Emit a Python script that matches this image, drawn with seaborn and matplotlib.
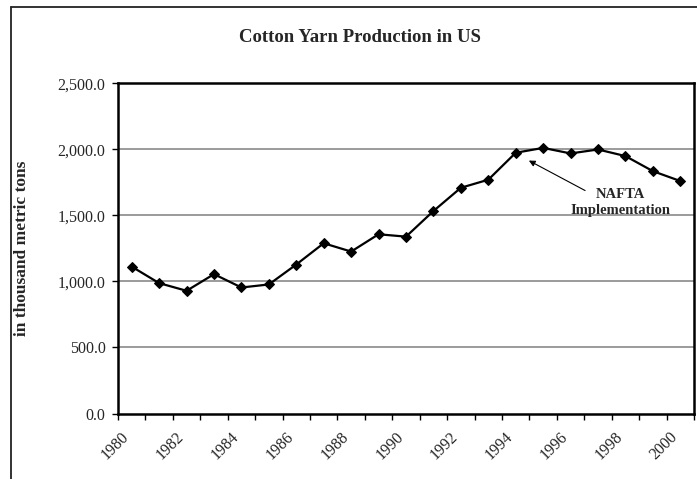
import matplotlib
matplotlib.use("Agg")
import matplotlib.pyplot as plt
import matplotlib.ticker as mticker
import matplotlib.transforms as mtransforms
from matplotlib.lines import Line2D
import seaborn as sns
import pandas as pd

# Annual cotton yarn production in the US (thousand metric tons)
years = list(range(1980, 2001))
production = [1112, 987, 929, 1055, 954, 977, 1128, 1289, 1226, 1357, 1339,
              1533, 1709, 1770, 1974, 2011, 1969, 1999, 1949, 1835, 1760]
year_labels = [str(y) for y in range(1980, 2001, 2)]
y_ticks = [0, 500, 1000, 1500, 2000, 2500]

title = "Cotton Yarn Production in US"
y_label = "in thousand metric tons"
note = "NAFTA\nImplementation"

df = pd.DataFrame({"year": years, "production": production})

sns.set_style("white")
plt.rcParams["font.family"] = ["Liberation Serif", "DejaVu Serif"]

W, H = 697, 479
fig = plt.figure(figsize=(W / 100, H / 100), dpi=100)
fig.patch.set_facecolor("white")

# plot area in pixel coordinates
left, right, top, bottom = 118, 694, 83.3, 413.5
ax = fig.add_axes([left / W, 1 - bottom / H, (right - left) / W, (bottom - top) / H])

sns.lineplot(data=df, x="year", y="production", ax=ax, color="black",
             linewidth=1.6, marker="D", markersize=5.5,
             markeredgecolor="black", markerfacecolor="black")

ax.set_xlim(years[0] - 0.5, years[-1] + 0.5)
ax.set_ylim(0, 2500)

# horizontal grid lines
ax.set_yticks(y_ticks)
ax.yaxis.set_major_formatter(mticker.FuncFormatter(lambda v, p: f"{v:,.1f}"))
for v in y_ticks[1:-1]:
    ax.axhline(v, color="#808080", linewidth=1.1, zorder=0)

# category axis: tick marks between years, labels every other year
ax.set_xticks([y - 0.5 for y in years] + [years[-1] + 0.5], minor=True)
ax.set_xticks([int(s) for s in year_labels])
ax.set_xticklabels(year_labels, rotation=45, ha="right", va="center",
                   rotation_mode="anchor")
ax.tick_params(axis="x", which="major", length=0, pad=15, labelsize=11.5)
ax.tick_params(axis="x", which="minor", length=4, width=1.0, direction="out",
               color="black", bottom=True)
ax.tick_params(axis="y", length=4, width=1.0, direction="out", color="black",
               pad=5, labelsize=11.5, left=True)
shift = mtransforms.ScaledTranslation(-5 / 100, 0, fig.dpi_scale_trans)
for lbl in ax.get_xticklabels():
    lbl.set_transform(lbl.get_transform() + shift)

for side in ["left", "bottom", "top", "right"]:
    ax.spines[side].set_visible(True)
    ax.spines[side].set_color("black")
    ax.spines[side].set_linewidth(1.8)

ax.set_xlabel("")
ax.set_ylabel(y_label, fontsize=12.5, fontweight="bold")
ax.yaxis.set_label_coords(-0.152, 0.5)

fig.text(360 / W, 1 - 37 / H, title, ha="center", va="center",
         fontsize=13.5, fontweight="bold")

ax.annotate("", xy=(1994.48, 1915), xytext=(1996.53, 1688),
            arrowprops=dict(arrowstyle="-|>", mutation_scale=9, lw=0.8,
                            color="black", shrinkA=0, shrinkB=0))
ax.text(1997.83, 1595, note, ha="center", va="center", fontsize=10.5,
        fontweight="bold", linespacing=1.3)

# chart area border
x0, y0 = 11 / W, 1 - 7 / H
fig.add_artist(Line2D([x0, x0], [0, y0], transform=fig.transFigure,
                      color="#222222", linewidth=1.3))
fig.add_artist(Line2D([x0, 1], [y0, y0], transform=fig.transFigure,
                      color="#222222", linewidth=1.3))

fig.savefig("out.png", dpi=100, facecolor="white")
